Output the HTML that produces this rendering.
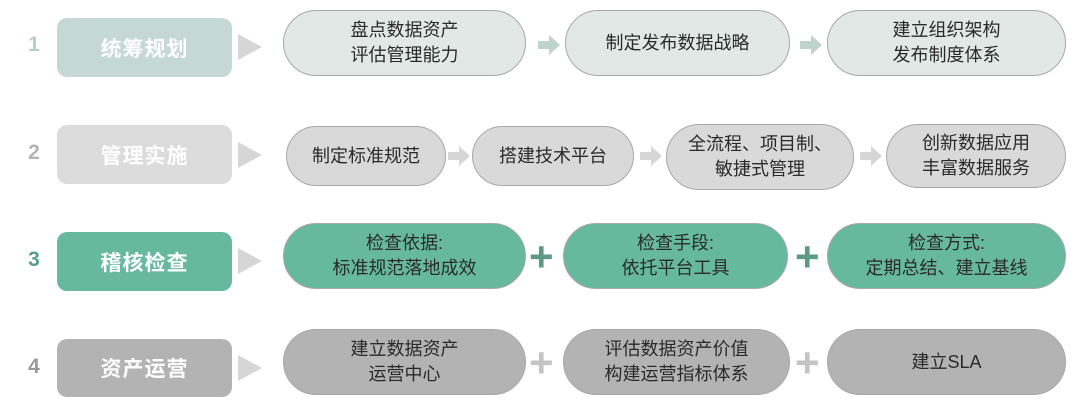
<!DOCTYPE html>
<html><head><meta charset="utf-8"><style>
body{margin:0;width:1080px;height:406px;background:#fff;position:relative;overflow:hidden;font-family:"Liberation Sans","Noto Sans CJK SC",sans-serif}
.n{position:absolute;left:23px;width:22px;text-align:center;font-size:21px;font-weight:bold}
.l{position:absolute;left:57px;width:175px;border-radius:10px;color:#fff;font-size:21px;font-weight:bold;display:flex;align-items:center;justify-content:center;letter-spacing:1px}
.t{position:absolute;left:238px;width:0;height:0;border-top:13px solid transparent;border-bottom:13px solid transparent;border-left:24px solid #d6d6d6}
.p{position:absolute;border-radius:40px;border:1.5px solid #a8a8a8;box-sizing:border-box;display:flex;align-items:center;justify-content:center;text-align:center;font-size:18px;line-height:25px;color:#2a2a2a}
.a{position:absolute;width:22px;height:20px}
.pl{position:absolute;font-size:42px;font-weight:bold;line-height:40px}
</style></head><body>
<div class="n" style="top:33px;color:#b6cfc9">1</div>
<div class="l" style="top:18px;height:59px;background:#c5d8d4">统筹规划</div>
<div class="t" style="top:34px"></div>
<div class="p" style="left:283px;width:243px;top:10px;height:66px;background:#e1e8e6">盘点数据资产<br>评估管理能力</div>
<svg class="a" style="left:538px;top:35px" viewBox="0 0 22 20"><polygon points="0,6 11,6 11,0 22,10 11,20 11,14 0,14" fill="#bfd3cd"/></svg>
<div class="p" style="left:565px;width:225px;top:10px;height:66px;background:#e1e8e6">制定发布数据战略</div>
<svg class="a" style="left:800px;top:35px" viewBox="0 0 22 20"><polygon points="0,6 11,6 11,0 22,10 11,20 11,14 0,14" fill="#bfd3cd"/></svg>
<div class="p" style="left:827px;width:239px;top:10px;height:66px;background:#e1e8e6">建立组织架构<br>发布制度体系</div>

<div class="n" style="top:141px;color:#b3b3b3">2</div>
<div class="l" style="top:125px;height:59px;background:#dcdcdc">管理实施</div>
<div class="t" style="top:142px"></div>
<div class="p" style="left:286px;width:160px;top:126px;height:60px;background:#d9d9d9">制定标准规范</div>
<svg class="a" style="left:448px;top:146px" viewBox="0 0 22 20"><polygon points="0,6 11,6 11,0 22,10 11,20 11,14 0,14" fill="#d6d6d6"/></svg>
<div class="p" style="left:472px;width:162px;top:126px;height:60px;background:#d9d9d9">搭建技术平台</div>
<svg class="a" style="left:640px;top:146px" viewBox="0 0 22 20"><polygon points="0,6 11,6 11,0 22,10 11,20 11,14 0,14" fill="#d6d6d6"/></svg>
<div class="p" style="left:666px;width:188px;top:124px;height:66px;background:#d9d9d9">全流程、项目制、<br>敏捷式管理</div>
<svg class="a" style="left:860px;top:146px" viewBox="0 0 22 20"><polygon points="0,6 11,6 11,0 22,10 11,20 11,14 0,14" fill="#d6d6d6"/></svg>
<div class="p" style="left:886px;width:180px;top:124px;height:64px;background:#d9d9d9">创新数据应用<br>丰富数据服务</div>

<div class="n" style="top:248px;color:#5a9e8a">3</div>
<div class="l" style="top:232px;height:59px;background:#67b99e">稽核检查</div>
<div class="t" style="top:248px"></div>
<div class="p" style="left:283px;width:243px;top:223px;height:66px;background:#67b99e">检查依据:<br>标准规范落地成效</div>
<div class="pl" style="left:529px;top:237px;color:#5e9986">+</div>
<div class="p" style="left:563px;width:225px;top:223px;height:66px;background:#67b99e">检查手段:<br>依托平台工具</div>
<div class="pl" style="left:795px;top:237px;color:#5e9986">+</div>
<div class="p" style="left:827px;width:239px;top:223px;height:66px;background:#67b99e">检查方式:<br>定期总结、建立基线</div>

<div class="n" style="top:355px;color:#999">4</div>
<div class="l" style="top:339px;height:58px;background:#b3b3b3">资产运营</div>
<div class="t" style="top:355px"></div>
<div class="p" style="left:283px;width:243px;top:329px;height:66px;background:#b3b3b3">建立数据资产<br>运营中心</div>
<div class="pl" style="left:529px;top:343px;color:#c4c4c4">+</div>
<div class="p" style="left:563px;width:227px;top:329px;height:66px;background:#b3b3b3">评估数据资产价值<br>构建运营指标体系</div>
<div class="pl" style="left:795px;top:343px;color:#c4c4c4">+</div>
<div class="p" style="left:827px;width:239px;top:329px;height:66px;background:#b3b3b3">建立SLA</div>
</body></html>
